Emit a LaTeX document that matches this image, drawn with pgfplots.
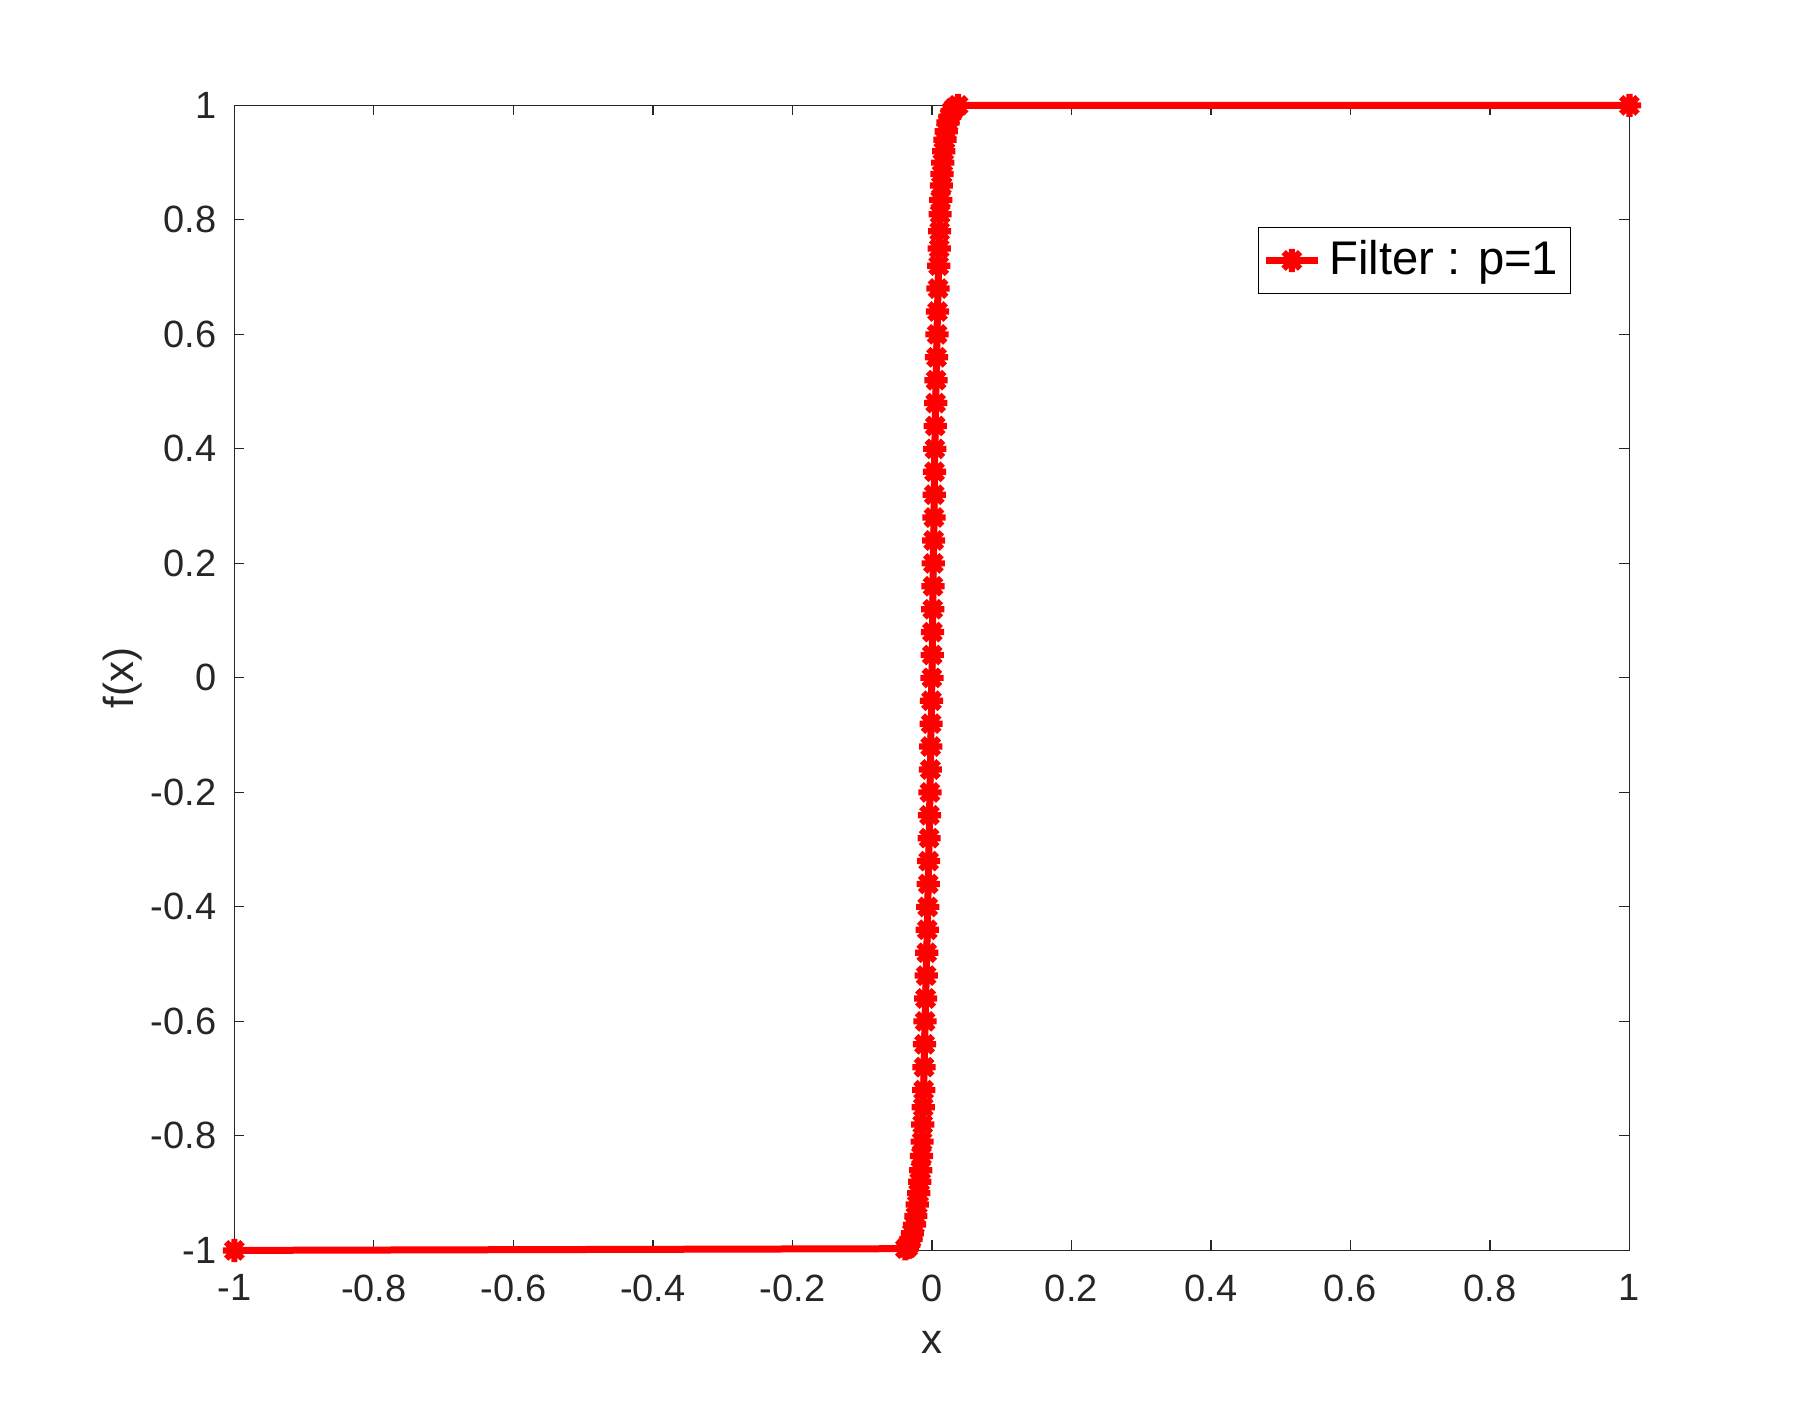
\documentclass[border=0pt]{standalone}
\usepackage{fontspec}
\setmainfont{Liberation Sans}
\usepackage{pgfplots}
\pgfplotsset{compat=1.18}
\definecolor{axgray}{RGB}{38,38,38}

% matlab style '*' marker: a plus and a cross
\pgfdeclareplotmark{matstar}{%
  \pgfpathmoveto{\pgfqpoint{-\pgfplotmarksize}{0pt}}%
  \pgfpathlineto{\pgfqpoint{\pgfplotmarksize}{0pt}}%
  \pgfpathmoveto{\pgfqpoint{0pt}{-\pgfplotmarksize}}%
  \pgfpathlineto{\pgfqpoint{0pt}{\pgfplotmarksize}}%
  \pgfpathmoveto{\pgfqpoint{-.707\pgfplotmarksize}{-.707\pgfplotmarksize}}%
  \pgfpathlineto{\pgfqpoint{.707\pgfplotmarksize}{.707\pgfplotmarksize}}%
  \pgfpathmoveto{\pgfqpoint{-.707\pgfplotmarksize}{.707\pgfplotmarksize}}%
  \pgfpathlineto{\pgfqpoint{.707\pgfplotmarksize}{-.707\pgfplotmarksize}}%
  \pgfusepathqstroke}

\begin{document}
\begin{tikzpicture}
  \begin{axis}[
    scale only axis,
    width=348.75pt, height=286.25pt,
    xmin=-1, xmax=1, ymin=-1, ymax=1,
    xtick={-1,-0.8,-0.6,-0.4,-0.2,0,0.2,0.4,0.6,0.8,1},
    ytick={-1,-0.8,-0.6,-0.4,-0.2,0,0.2,0.4,0.6,0.8,1},
    tick align=inside,
    major tick length=2.5pt,
    axis line style={axgray, line width=0.3pt},
    every tick/.style={axgray, line width=0.3pt},
    /pgf/number format/assume math mode=true,
    ticklabel style={font=\fontsize{9.5}{11}\selectfont, text=axgray},
    xticklabel style={yshift=-2.5pt},
    yticklabel style={xshift=-1pt},
    xlabel={x}, ylabel={f(x)},
    label style={font=\fontsize{10.5}{12}\selectfont, text=axgray},
    xlabel style={at={(axis description cs:0.5,0)}, yshift=-23pt, anchor=center},
    ylabel style={at={(axis description cs:0,0.5)}, yshift=28pt, anchor=center},
    clip=false,
    legend style={at={(0.958,0.894)}, anchor=north east, draw=black, line width=0.3pt,
      font=\fontsize{11.8}{13}\selectfont, inner xsep=1pt, inner ysep=1.25pt},
    legend cell align=left,
    legend image code/.code={%
      \draw[mark repeat=2, mark phase=2]
        plot coordinates {(0cm,0cm) (0.23cm,0cm) (0.46cm,0cm)};},
  ]
    \addplot[red, line width=1.75pt, mark=matstar, mark size=2.9pt,
      mark options={line width=1.55pt}]
    coordinates {
      (-1,-1)
      (-0.0380,-0.997) (-0.0350,-0.995) (-0.0330,-0.990) (-0.0300,-0.980)
      (-0.0280,-0.970) (-0.0250,-0.955) (-0.0230,-0.940) (-0.0210,-0.920)
      (-0.0190,-0.900) (-0.0175,-0.880) (-0.0160,-0.860) (-0.0150,-0.835)
      (-0.0140,-0.810) (-0.0132,-0.780) (-0.0125,-0.750) (-0.0118,-0.720)
      (-0.0112,-0.680) (-0.0105,-0.640) (-0.0098,-0.600) (-0.0090,-0.560)
      (-0.0082,-0.520) (-0.0074,-0.480) (-0.0066,-0.440) (-0.0060,-0.400)
      (-0.0053,-0.360) (-0.0047,-0.320) (-0.0040,-0.280) (-0.0034,-0.240)
      (-0.0028,-0.200) (-0.0022,-0.160) (-0.0017,-0.120) (-0.0011,-0.080)
      (-0.0006,-0.040) (0.0000,0.000) (0.0004,0.040) (0.0008,0.080)
      (0.0012,0.120) (0.0016,0.160) (0.0020,0.200) (0.0025,0.240)
      (0.0030,0.280) (0.0034,0.320) (0.0038,0.360) (0.0042,0.400)
      (0.0048,0.440) (0.0054,0.480) (0.0060,0.520) (0.0067,0.560)
      (0.0074,0.600) (0.0080,0.640) (0.0088,0.680) (0.0097,0.720)
      (0.0104,0.750) (0.0111,0.780) (0.0118,0.810) (0.0126,0.835)
      (0.0136,0.860) (0.0146,0.880) (0.0156,0.900) (0.0170,0.920)
      (0.0188,0.940) (0.0207,0.955) (0.0232,0.970) (0.0258,0.980)
      (0.0290,0.990) (0.0320,0.995) (0.0376,1.000)
      (1,1)
    };
    \addlegendentry{Filter : p=1}
  \end{axis}
  \path (current axis.south west) ++(-58.6pt,-38.4pt) rectangle ++(450pt,351pt);
\end{tikzpicture}
\end{document}
